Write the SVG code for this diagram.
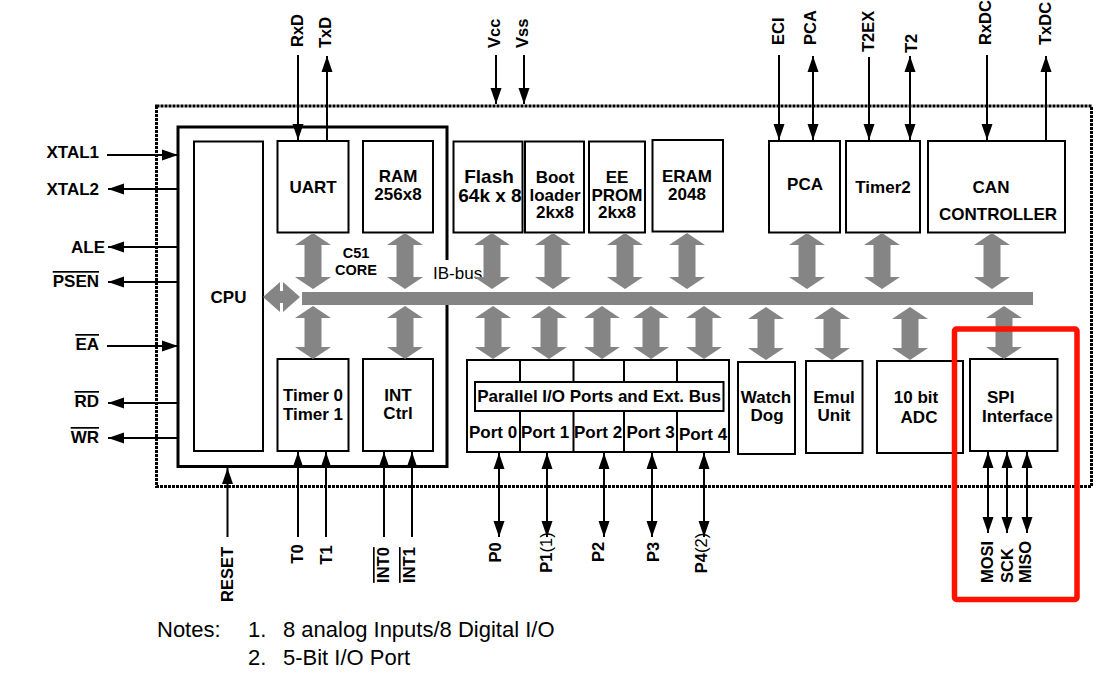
<svg xmlns="http://www.w3.org/2000/svg" width="1106" height="681" viewBox="0 0 1106 681">
<style>
.b{fill:#fff;stroke:#000;stroke-width:2}
.t{font-family:"Liberation Sans",Arial,sans-serif;font-weight:bold;font-size:17px;fill:#000;text-anchor:middle}
.l{font-family:"Liberation Sans",Arial,sans-serif;font-weight:bold;font-size:17px;fill:#000;text-anchor:end}
.r{font-family:"Liberation Sans",Arial,sans-serif;font-weight:bold;font-size:16.5px;fill:#000}
.n{font-family:"Liberation Sans",Arial,sans-serif;font-size:22px;fill:#000}
.sig{stroke:#000;stroke-width:2;fill:none}
.g{fill:#858585}
.ov{text-decoration:overline}
</style>
<defs>
<marker id="ah" viewBox="0 0 16 12" refX="16" refY="6" markerWidth="16" markerHeight="12" markerUnits="userSpaceOnUse" orient="auto-start-reverse"><path d="M0,0.5 L16,6 L0,11.5 Z" fill="#000"/></marker>
<path id="bu" d="M0,0 L18,12 L8.5,12 L8.5,44 L18,44 L0,56 L-18,44 L-8.5,44 L-8.5,12 L-18,12 Z"/>
<path id="bl" d="M0,0 L18,12 L8.5,12 L8.5,41 L18,41 L0,53 L-18,41 L-8.5,41 L-8.5,12 L-18,12 Z"/>
</defs>
<rect width="1106" height="681" fill="#fff"/>

<g id="chip-boundary">
<rect x="156.5" y="106" width="935" height="380.5" fill="none" stroke="#000" stroke-width="3" stroke-dasharray="3 1"/>
</g>

<g id="c51-core">
<path d="M447,260 V127 H178 V466.5 H447 V305" fill="none" stroke="#000" stroke-width="3"/>
<text class="t" x="356" y="258" style="font-size:14.5px">C51</text>
<text class="t" x="356" y="275" style="font-size:14.5px">CORE</text>
</g>

<g id="cpu"><rect class="b" x="194" y="141.5" width="69" height="309.5"/><text class="t" x="228.5" y="303">CPU</text></g>
<g id="uart"><rect class="b" x="277.5" y="141" width="71" height="91.5"/><text class="t" x="313" y="193">UART</text></g>
<g id="ram"><rect class="b" x="363" y="141" width="70" height="91.5"/><text class="t" x="398" y="182">RAM</text><text class="t" x="398" y="200">256x8</text></g>
<g id="timer01"><rect class="b" x="277.5" y="359" width="71" height="92"/><text class="t" x="313" y="401">Timer 0</text><text class="t" x="313" y="420">Timer 1</text></g>
<g id="int-ctrl"><rect class="b" x="363" y="359" width="70" height="92"/><text class="t" x="398" y="401">INT</text><text class="t" x="398" y="419">Ctrl</text></g>

<g id="flash"><rect class="b" x="453.5" y="141.5" width="69" height="91"/><text class="t" x="489" y="183" style="font-size:19px">Flash</text><text class="t" x="490" y="202" style="font-size:19px">64k x 8</text></g>
<g id="bootloader"><rect class="b" x="525" y="141.5" width="59" height="91"/><text class="t" x="555" y="183">Boot</text><text class="t" x="555" y="201">loader</text><text class="t" x="555" y="218">2kx8</text></g>
<g id="eeprom"><rect class="b" x="589" y="141.5" width="56" height="91"/><text class="t" x="617" y="183">EE</text><text class="t" x="617" y="201">PROM</text><text class="t" x="617" y="218">2kx8</text></g>
<g id="eram"><rect class="b" x="652.5" y="140" width="70.5" height="91.5"/><text class="t" x="687" y="182">ERAM</text><text class="t" x="687" y="200">2048</text></g>

<g id="pca"><rect class="b" x="769" y="141" width="71" height="91.5"/><text class="t" x="805" y="190">PCA</text></g>
<g id="timer2"><rect class="b" x="846" y="141" width="74" height="91.5"/><text class="t" x="883" y="193">Timer2</text></g>
<g id="can"><rect class="b" x="928" y="141" width="137" height="91.5"/><text class="t" x="991" y="193">CAN</text><text class="t" x="998" y="220">CONTROLLER</text></g>

<g id="ports">
<rect class="b" x="467" y="360" width="262" height="92"/>
<path d="M520,360 V382 M573.5,360 V382 M624,360 V382 M677,360 V382 M520,411 V452 M573.5,411 V452 M624,411 V452 M677,411 V452" stroke="#000" stroke-width="2"/>
<rect class="b" x="475" y="382" width="248.5" height="29"/>
<text class="t" x="599" y="402">Parallel I/O Ports and Ext. Bus</text>
<text class="t" x="493" y="438">Port 0</text>
<text class="t" x="545" y="438">Port 1</text>
<text class="t" x="598" y="438">Port 2</text>
<text class="t" x="650.5" y="438">Port 3</text>
<text class="t" x="703" y="440">Port 4</text>
</g>

<g id="watchdog"><rect class="b" x="738" y="362" width="57" height="92"/><text class="t" x="766" y="403">Watch</text><text class="t" x="767" y="421">Dog</text></g>
<g id="emul"><rect class="b" x="806" y="361" width="56.5" height="92"/><text class="t" x="834" y="403">Emul</text><text class="t" x="834" y="421">Unit</text></g>
<g id="adc"><rect class="b" x="877" y="361" width="86" height="92"/><text class="t" x="916" y="403">10 bit</text><text class="t" x="919" y="423">ADC</text></g>
<g id="spi"><rect class="b" x="970" y="359" width="87.5" height="92"/><text class="t" x="987" y="403" style="text-anchor:start">SPI</text><text class="t" x="982" y="422" style="text-anchor:start">Interface</text></g>

<g id="ib-bus">
<rect class="g" x="302" y="292" width="731" height="13"/>
<text x="433" y="279" style="font-family:'Liberation Sans',Arial,sans-serif;font-size:17px;fill:#000">IB-bus</text>
</g>

<g id="connectors">
<path class="g" d="M263,297 L280,282 L280,291 L283,291 L283,282 L300,297 L283,312 L283,303 L280,303 L280,312 Z"/>
<g class="g">
<use href="#bu" transform="translate(313,233)"/>
<use href="#bu" transform="translate(405,233)"/>
<use href="#bu" transform="translate(492,233)"/>
<use href="#bu" transform="translate(553,233)"/>
<use href="#bu" transform="translate(625,233)"/>
<use href="#bu" transform="translate(687,233)"/>
<use href="#bu" transform="translate(807,233)"/>
<use href="#bu" transform="translate(882,233)"/>
<use href="#bu" transform="translate(992,233)"/>
<use href="#bl" transform="translate(313,306)"/>
<use href="#bl" transform="translate(405,306)"/>
<use href="#bl" transform="translate(493,306)"/>
<use href="#bl" transform="translate(549,306)"/>
<use href="#bl" transform="translate(602,306)"/>
<use href="#bl" transform="translate(651,306)"/>
<use href="#bl" transform="translate(704,306)"/>
<use href="#bl" transform="translate(766,307)"/>
<use href="#bl" transform="translate(832,307)"/>
<use href="#bl" transform="translate(910,307)"/>
<use href="#bl" transform="translate(1004,306)"/>
</g>
<g class="sig" marker-end="url(#ah)">
<line x1="107" y1="155" x2="178" y2="155"/>
<line x1="178" y1="189" x2="108" y2="189"/>
<line x1="178" y1="247" x2="108" y2="247"/>
<line x1="178" y1="282" x2="108" y2="282"/>
<line x1="107" y1="346" x2="178" y2="346"/>
<line x1="178" y1="403" x2="108" y2="403"/>
<line x1="178" y1="438" x2="108" y2="438"/>
<line x1="298" y1="55" x2="298" y2="140"/>
<line x1="327" y1="141" x2="327" y2="56"/>
<line x1="496" y1="55" x2="496" y2="104"/>
<line x1="524" y1="55" x2="524" y2="104"/>
<line x1="779" y1="55" x2="779" y2="140"/>
<line x1="869" y1="57" x2="869" y2="140"/>
<line x1="987" y1="55" x2="987" y2="140"/>
<line x1="1046" y1="141" x2="1046" y2="56"/>
<line x1="227.5" y1="537" x2="227.5" y2="468"/>
<line x1="298" y1="537" x2="298" y2="452"/>
<line x1="326" y1="537" x2="326" y2="452"/>
<line x1="384" y1="537" x2="384" y2="452"/>
<line x1="412" y1="537" x2="412" y2="452"/>
</g>
<g class="sig" marker-start="url(#ah)" marker-end="url(#ah)">
<line x1="813" y1="56" x2="813" y2="140"/>
<line x1="910" y1="56" x2="910" y2="140"/>
<line x1="499" y1="453" x2="499" y2="537"/>
<line x1="547" y1="453" x2="547" y2="537"/>
<line x1="604" y1="453" x2="604" y2="537"/>
<line x1="652" y1="453" x2="652" y2="537"/>
<line x1="704" y1="453" x2="704" y2="537"/>
<line x1="988" y1="452" x2="988" y2="533"/>
<line x1="1007" y1="452" x2="1007" y2="533"/>
<line x1="1027" y1="452" x2="1027" y2="533"/>
</g>
</g>

<g id="pin-labels">
<text class="l" x="99" y="158">XTAL1</text>
<text class="l" x="99" y="195">XTAL2</text>
<text class="l" x="105" y="253">ALE</text>
<text class="l ov" x="99" y="287">PSEN</text>
<text class="l ov" x="99" y="350">EA</text>
<text class="l ov" x="99" y="407">RD</text>
<text class="l ov" x="99" y="443">WR</text>

<text class="r" transform="translate(303,47) rotate(-90)">RxD</text>
<text class="r" transform="translate(331,48) rotate(-90)">TxD</text>
<text class="r" transform="translate(499.5,48) rotate(-90)">Vcc</text>
<text class="r" transform="translate(527.5,48) rotate(-90)">Vss</text>
<text class="r" transform="translate(783.5,45) rotate(-90)">ECI</text>
<text class="r" transform="translate(815.5,45) rotate(-90)">PCA</text>
<text class="r" transform="translate(873.5,52) rotate(-90)">T2EX</text>
<text class="r" transform="translate(916.5,53) rotate(-90)">T2</text>
<text class="r" transform="translate(991,45) rotate(-90)">RxDC</text>
<text class="r" transform="translate(1050.5,45) rotate(-90)">TxDC</text>

<text class="r" text-anchor="middle" transform="translate(233,574.5) rotate(-90)">RESET</text>
<text class="r" text-anchor="middle" transform="translate(303,554) rotate(-90)">T0</text>
<text class="r" text-anchor="middle" transform="translate(331.5,555) rotate(-90)">T1</text>
<text class="r ov" text-anchor="middle" transform="translate(389,565) rotate(-90)">INT0</text>
<text class="r ov" text-anchor="middle" transform="translate(415,565) rotate(-90)">INT1</text>
<text class="r" text-anchor="middle" transform="translate(501,552.5) rotate(-90)">P0</text>
<text class="r" text-anchor="middle" transform="translate(552,552.5) rotate(-90)">P1<tspan font-weight="normal">(1)</tspan></text>
<text class="r" text-anchor="middle" transform="translate(604,552) rotate(-90)">P2</text>
<text class="r" text-anchor="middle" transform="translate(658.5,552) rotate(-90)">P3</text>
<text class="r" text-anchor="middle" transform="translate(707,553) rotate(-90)">P4<tspan font-weight="normal">(2)</tspan></text>
<text class="r" transform="translate(992.5,583) rotate(-90)">MOSI</text>
<text class="r" transform="translate(1012.5,583) rotate(-90)">SCK</text>
<text class="r" transform="translate(1031,583) rotate(-90)">MISO</text>
</g>

<g id="notes">
<text class="n" x="157" y="637">Notes:</text>
<text class="n" x="248" y="637">1.</text>
<text class="n" x="283" y="637">8 analog Inputs/8 Digital I/O</text>
<text class="n" x="248" y="665">2.</text>
<text class="n" x="283" y="665">5-Bit I/O Port</text>
</g>

<g id="highlight">
<rect x="954.5" y="329" width="122.5" height="270.5" rx="2" fill="none" stroke="#ff1100" stroke-width="5.5"/>
</g>
</svg>
